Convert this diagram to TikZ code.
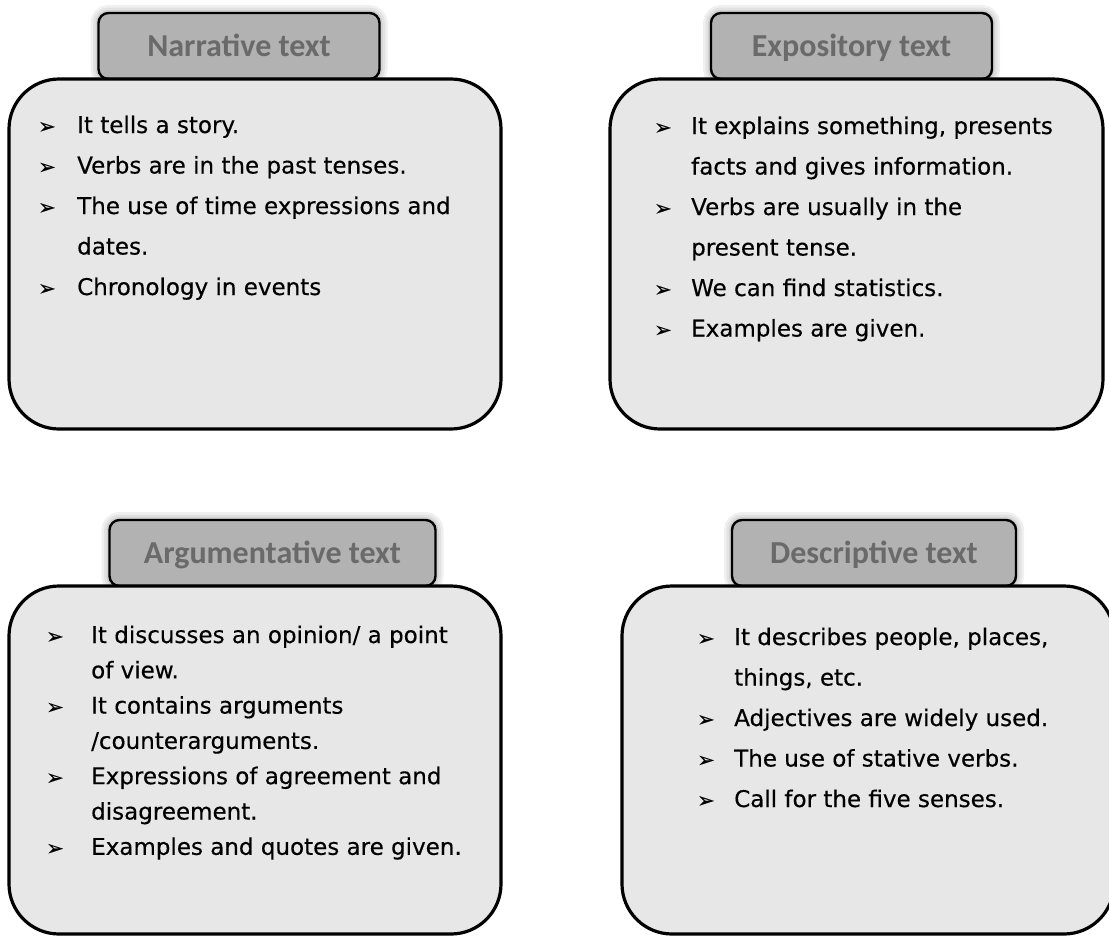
\documentclass[tikz,border=0pt]{standalone}
\usepackage{fontspec}
\setmainfont{DejaVu Sans}[UprightFeatures={FakeBold=0.35}]
\newfontfamily\tabfont{Carlito}
\usetikzlibrary{positioning}
\definecolor{cardgrey}{HTML}{E7E7E7}
\definecolor{tabgrey}{HTML}{B2B2B2}
\definecolor{titlegrey}{HTML}{6A6A6A}
\newcommand{\arrowbul}{{\fontsize{21}{21}\selectfont\raisebox{-0.5pt}{➢}}}

\begin{document}
\begin{tikzpicture}[x=1pt,y=-1pt,
  card/.style={draw=black,line width=3.2pt,fill=cardgrey,rounded corners=50pt,inner sep=0pt},
  tabglow/.style={preaction={draw=black,opacity=.06,line width=16pt},
    preaction={draw=black,opacity=.06,line width=11pt},
    preaction={draw=black,opacity=.07,line width=6pt}},
  cardtab/.style={tabglow,draw=black,line width=2.4pt,fill=tabgrey,rounded corners=10pt,
    inner sep=0pt,minimum height=66pt,text height=23pt,text depth=3pt,text=titlegrey,
    font=\tabfont\bfseries\fontsize{32}{34}\selectfont},
  points/.style={anchor=base west,inner sep=0pt,font=\fontsize{23}{40.5}\selectfont}]
  \useasboundingbox (0,0) rectangle (1109,935);
  % top row
  \node[cardtab,minimum width=281pt] (narrtab) at (239,46) {Narrative text};
  \node[card,minimum width=492pt,minimum height=350pt] (narr) at (255,254) {};
  \node[cardtab,minimum width=281pt] (expotab) at (851.5,46) {Expository text};
  \node[card,minimum width=493pt,minimum height=350pt] (expo) at (856.5,254) {};
  % bottom row
  \node[cardtab,minimum width=326pt] (argutab) at (272.5,553) {Argumentative text};
  \node[card,minimum width=492pt,minimum height=348pt] (argu) at (255,760) {};
  \node[cardtab,minimum width=284pt] (desctab) at (874,553) {Descriptive text};
  \node[card,minimum width=492pt,minimum height=348pt] (desc) at (868,760) {};
  % lists
  \node[points] (narrlist) at (38,133) {\begin{tabular}[t]{@{}p{39pt}@{}l@{}}
    \arrowbul & It tells a story.\\
    \arrowbul & Verbs are in the past tenses.\\
    \arrowbul & The use of time expressions and\\
              & dates.\\
    \arrowbul & Chronology in events
  \end{tabular}};
  \node[points] (expolist) at (654,134) {\begin{tabular}[t]{@{}p{37pt}@{}l@{}}
    \arrowbul & It explains something, presents\\
              & facts and gives information.\\
    \arrowbul & Verbs are usually in the\\
              & present tense.\\
    \arrowbul & We can find statistics.\\
    \arrowbul & Examples are given.
  \end{tabular}};
  \node[points,font=\fontsize{23}{35.3}\selectfont] (argulist) at (46,643) {\begin{tabular}[t]{@{}p{45pt}@{}l@{}}
    \arrowbul & It discusses an opinion/ a point\\
              & of view.\\
    \arrowbul & It contains arguments\\
              & /counterarguments.\\
    \arrowbul & Expressions of agreement and\\
              & disagreement.\\
    \arrowbul & Examples and quotes are given.
  \end{tabular}};
  \node[points] (desclist) at (697,645) {\begin{tabular}[t]{@{}p{37pt}@{}l@{}}
    \arrowbul & It describes people, places,\\
              & things, etc.\\
    \arrowbul & Adjectives are widely used.\\
    \arrowbul & The use of stative verbs.\\
    \arrowbul & Call for the five senses.
  \end{tabular}};
\end{tikzpicture}
\end{document}
